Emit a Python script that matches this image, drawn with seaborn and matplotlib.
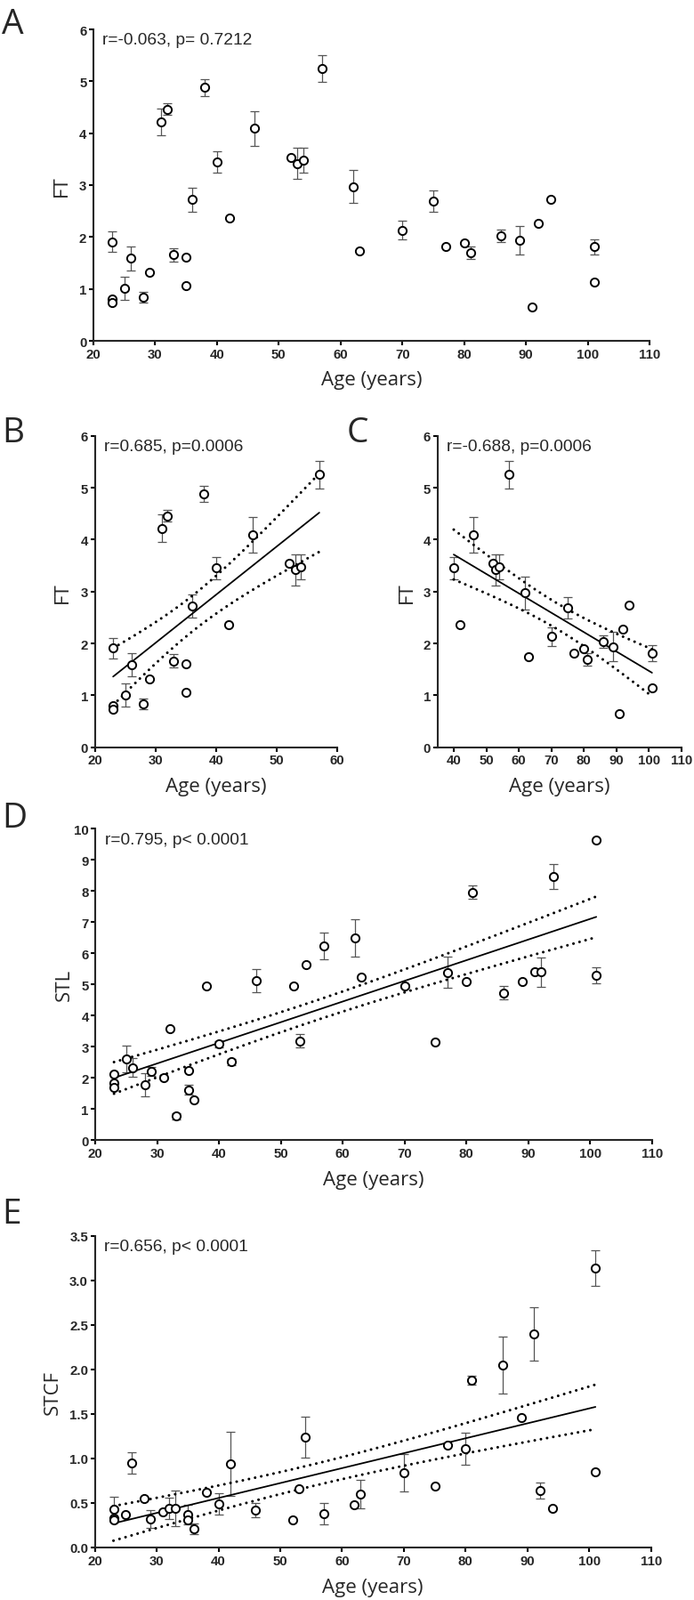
import numpy as np
import pandas as pd
import seaborn as sns
import matplotlib
matplotlib.use("Agg")
import matplotlib.pyplot as plt

sns.set_style("ticks")
plt.rcParams['font.family'] = ['Liberation Sans', 'DejaVu Sans']

# Data (age of donor, mean value, error)
ages = [23, 23, 23, 25, 26, 28, 29, 31, 32, 33, 35, 35, 36, 38, 40, 42, 46, 52,
        53, 54, 57, 62, 63, 70, 75, 77, 80, 81, 86, 89, 91, 92, 94, 101, 101]

ft = [1.91, 0.80, 0.73, 1.01, 1.59, 0.84, 1.32, 4.22, 4.46, 1.66, 1.61, 1.06,
      2.72, 4.88, 3.45, 2.36, 4.09, 3.54, 3.42, 3.48, 5.25, 2.97, 1.74, 2.13,
      2.69, 1.81, 1.89, 1.70, 2.03, 1.94, 0.65, 2.27, 2.73, 1.81, 1.14]
ft_err = [0.20, 0, 0, 0.22, 0.23, 0.10, 0, 0.26, 0.11, 0.13, 0, 0,
          0.23, 0.16, 0.21, 0, 0.34, 0, 0.30, 0.24, 0.26, 0.32, 0, 0.18,
          0.21, 0, 0, 0.12, 0.12, 0.28, 0, 0, 0, 0.15, 0]

stl = [2.13, 1.83, 1.69, 2.62, 2.33, 1.78, 2.21, 2.01, 3.59, 0.78, 2.23, 1.62,
       1.29, 4.96, 3.09, 2.52, 5.12, 4.95, 3.19, 5.65, 6.24, 6.49, 5.23, 4.95,
       3.14, 5.39, 5.10, 7.96, 4.73, 5.09, 5.40, 5.40, 8.47, 5.30, 9.65]
stl_err = [0, 0, 0, 0.43, 0.30, 0.38, 0.15, 0, 0, 0.10, 0, 0.15,
           0, 0, 0.10, 0.10, 0.38, 0, 0.21, 0, 0.42, 0.60, 0, 0.05,
           0, 0.50, 0, 0.22, 0.22, 0, 0, 0.48, 0.40, 0.25, 0]

stcf = [0.43, 0.33, 0.31, 0.37, 0.95, 0.55, 0.32, 0.40, 0.44, 0.44, 0.37, 0.31,
        0.21, 0.62, 0.49, 0.94, 0.42, 0.31, 0.66, 1.24, 0.38, 0.48, 0.60, 0.84,
        0.69, 1.15, 1.11, 1.88, 2.05, 1.46, 2.40, 0.64, 0.44, 3.14, 0.85]
stcf_err = [0.14, 0, 0, 0, 0.12, 0, 0.10, 0, 0.12, 0.20, 0.11, 0,
            0.06, 0, 0.12, 0.36, 0.08, 0, 0, 0.23, 0.12, 0, 0.16, 0.21,
            0, 0, 0.18, 0.05, 0.32, 0, 0.30, 0.09, 0, 0.20, 0]

stats_text = {
    'A': "r=-0.063, p= 0.7212",
    'B': "r=0.685, p=0.0006",
    'C': "r=-0.688, p=0.0006",
    'D': "r=0.795, p< 0.0001",
    'E': "r=0.656, p< 0.0001",
}
# fit used replicate measurements per donor -> narrower 95% band
replicates = 2
# two-sided 95% t critical values by degrees of freedom
t_crit = {40: 2.021, 68: 1.995}

df = pd.DataFrame({'age': ages, 'ft': ft, 'ft_err': ft_err, 'stl': stl,
                   'stl_err': stl_err, 'stcf': stcf, 'stcf_err': stcf_err})

W, H = 780, 1799
fig = plt.figure(figsize=(W / 100, H / 100), dpi=100)


def add_axes(left, top, right, bottom):
    return fig.add_axes([left / W, 1 - bottom / H, (right - left) / W, (bottom - top) / H])


def draw_points(ax, d, col):
    e = d[d[col + '_err'] > 0]
    ax.errorbar(e['age'], e[col], yerr=e[col + '_err'], fmt='none', ecolor='#555555',
                elinewidth=0.9, capsize=3.3, capthick=0.9, zorder=2, clip_on=False)
    sns.scatterplot(data=d, x='age', y=col, ax=ax, marker='o', s=44, facecolor='white',
                    edgecolor='black', linewidth=1.4, zorder=4, clip_on=False)


def draw_fit(ax, d, col):
    x = d['age'].to_numpy(float)
    y = d[col].to_numpy(float)
    n = len(x)
    sns.regplot(x=x, y=y, ax=ax, scatter=False, ci=None, truncate=True,
                line_kws=dict(color='black', lw=1.3, zorder=3))
    b, a = np.polyfit(x, y, 1)
    xs = np.linspace(x.min(), x.max(), 200)
    s = np.sqrt(np.sum((y - (a + b * x)) ** 2) / (n - 2))
    se = s * np.sqrt(1 / n + (xs - x.mean()) ** 2 / np.sum((x - x.mean()) ** 2))
    se = se / np.sqrt(replicates)
    t = t_crit[n * replicates - 2]
    for sign in (1, -1):
        ax.plot(xs, a + b * xs + sign * t * se, color='black', lw=2.2,
                linestyle=(0, (0.01, 2.3)), dash_capstyle='round', zorder=3)


def style(ax, xlim, xticks, ylim, yticks, yfmt, ylabel, ylab_off, key):
    ax.set_xlim(*xlim)
    ax.set_ylim(*ylim)
    ax.set_xticks(xticks)
    ax.set_xticklabels([str(v) for v in xticks], fontweight='bold', fontsize=10.8)
    ax.set_yticks(yticks)
    ax.set_yticklabels([yfmt.format(v) for v in yticks], fontweight='bold', fontsize=10.8)
    sns.despine(ax=ax)
    for sp in ('left', 'bottom'):
        ax.spines[sp].set_linewidth(1.5)
    ax.tick_params(width=1.5, length=3.5, pad=2, color='black')
    w_px = ax.get_position().width * W
    ax.set_xlabel('Age (years)', fontsize=16, family='Open Sans')
    ax.set_ylabel(ylabel, fontsize=16, family='Open Sans')
    ax.xaxis.set_label_coords(0.5, -44 / 350)
    ax.xaxis.label.set_verticalalignment('center')
    ax.yaxis.set_label_coords(-ylab_off / w_px, 0.5)
    ax.yaxis.label.set_verticalalignment('center')
    ax.annotate(stats_text[key], xy=(0, 1), xycoords='axes fraction', xytext=(7.5, -8.6),
                textcoords='offset points', ha='left', va='center', fontsize=13.8)


def letter(txt, x_px, base_px):
    fig.text(x_px / W, 1 - base_px / H, txt, fontsize=28, family='Open Sans',
             ha='left', va='baseline')


# A: all ages
axA = add_axes(105, 34, 730, 384)
draw_points(axA, df, 'ft')
style(axA, (20, 110), list(range(20, 111, 10)), (0, 6), list(range(0, 7)), '{}', 'FT', 36, 'A')
letter('A', 2, 38)

# B: young (<= 57)
dB = df[df['age'] <= 57]
axB = add_axes(106.7, 490.7, 379.3, 840.7)
draw_points(axB, dB, 'ft')
draw_fit(axB, dB, 'ft')
style(axB, (20, 60), list(range(20, 61, 10)), (0, 6), list(range(0, 7)), '{}', 'FT', 36, 'B')
letter('B', 2, 497)

# C: old (>= 40)
dC = df[df['age'] >= 40]
axC = add_axes(491.7, 490.7, 765.7, 840.7)
draw_points(axC, dC, 'ft')
draw_fit(axC, dC, 'ft')
style(axC, (35, 110), list(range(40, 111, 10)), (0, 6), list(range(0, 7)), '{}', 'FT', 34, 'C')
letter('C', 390, 497)

# D: STL
axD = add_axes(107.3, 932.3, 732.7, 1282.3)
draw_points(axD, df, 'stl')
draw_fit(axD, df, 'stl')
style(axD, (20, 110), list(range(20, 111, 10)), (0, 10), list(range(0, 11)), '{}', 'STL', 35, 'D')
letter('D', 2, 930)

# E: STCF
axE = add_axes(106.7, 1389.7, 731.7, 1740)
draw_points(axE, df, 'stcf')
draw_fit(axE, df, 'stcf')
style(axE, (20, 110), list(range(20, 111, 10)), (0, 3.5), [i * 0.5 for i in range(8)], '{:.1f}',
      'STCF', 47, 'E')
letter('E', 2, 1375)

fig.savefig("out.png", dpi=100)
